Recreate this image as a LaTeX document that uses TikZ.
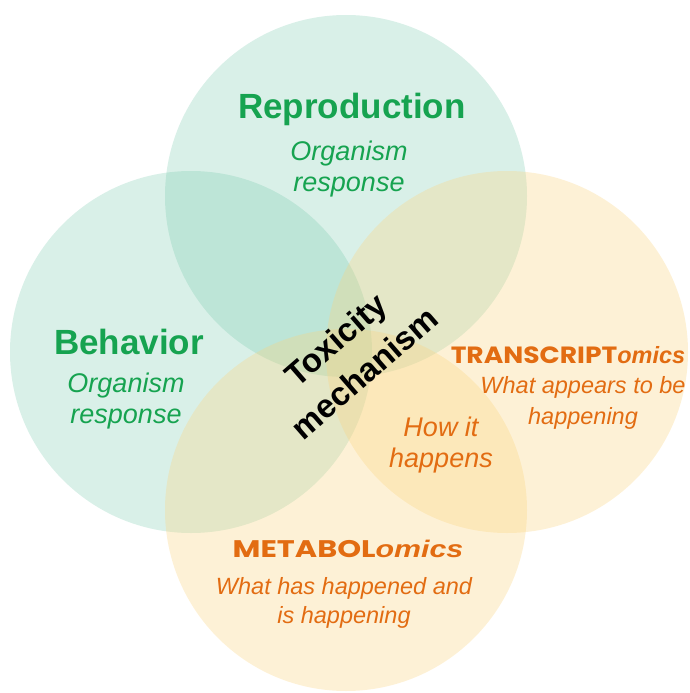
\documentclass[tikz,border=0pt]{standalone}
\usepackage{fontspec}
\setmainfont{Liberation Sans}
\newfontfamily\omicsfont{Poppins}
\usepackage{xcolor}
\usepackage{tikz}
\usetikzlibrary{positioning}
\definecolor{orgGreen}{RGB}{104,195,163}
\definecolor{omicsOrange}{RGB}{250,212,128}
\definecolor{greenText}{RGB}{22,163,80}
\definecolor{orangeText}{RGB}{226,108,18}
\tikzset{
  venn/.style={circle, minimum size=362pt, inner sep=0pt},
  venngreen/.style={venn, fill=orgGreen, fill opacity=0.25},
  vennorange/.style={venn, fill=omicsOrange, fill opacity=0.32},
  gtitle/.style={font=\fontsize{35}{40}\selectfont\bfseries, text=greenText},
  gsub/.style={font=\fontsize{27}{31.5}\selectfont\itshape, text=greenText,
               align=center},
  otitle/.style={font=\fontsize{23.5}{27}\selectfont, text=orangeText},
  osub/.style={font=\fontsize{23.5}{29.5}\selectfont\itshape, text=orangeText,
               align=center},
  toxlab/.style={font=\fontsize{33}{44}\selectfont\bfseries, align=center,
                 rotate=41}
}
% caps part in Poppins (stretched by #1), then "omics"
\newcommand{\omics}[2]{{\omicsfont\bfseries\addfontfeature{FakeStretch=#1}#2}%
  {\bfseries\itshape omics}}

\begin{document}
\begin{tikzpicture}[x=1pt,y=-1pt]
  \useasboundingbox (0,0) rectangle (689,693);
  % the four circles
  \node[venngreen] (repro) at (346,196) {};
  \node[venngreen] (behav) at (191,352) {};
  \node[vennorange] (trans) at (507,352) {};
  \node[vennorange] (metab) at (346,510) {};
  % organism level
  \node[gtitle] (reprolab) at (352,109) {Reproduction};
  \node[gsub] (reprosub) at (349,169) {Organism\\response};
  \node[gtitle] (behavlab) at (129,342) {Behavior};
  \node[gsub] (behavsub) at (126,401) {Organism\\response};
  % omics level
  \node[otitle] (translab) at (568,355) {\omics{1.13}{TRANSCRIPT}};
  \node[osub, font=\fontsize{23.5}{30.5}\selectfont\itshape]
    (transsub) at (583,403) {What appears to be\\happening};
  \node[otitle, font=\fontsize{24}{28}\selectfont, xscale=1.265, transform shape]
    (metablab) at (348,549) {\omics{1}{METABOL}};
  \node[osub] (metabsub) at (344,603) {What has happened and\\is happening};
  \node[gsub, text=orangeText] (howlab) at (441,445) {How it\\happens};
  % centre
  \node[toxlab] (toxlab) at (350,356) {Toxicity\\mechanism};
\end{tikzpicture}
\end{document}
